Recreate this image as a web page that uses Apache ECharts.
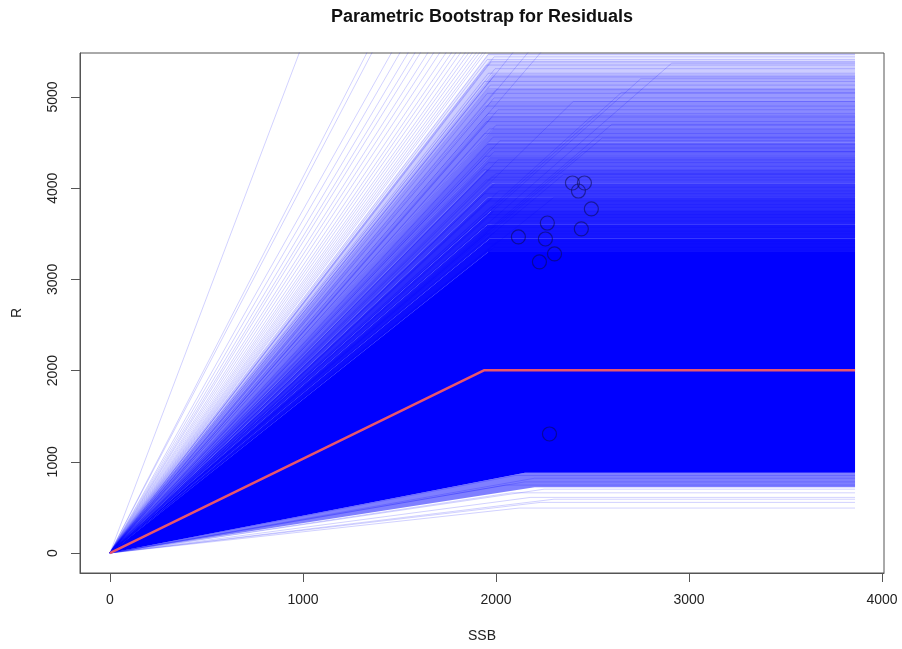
<!DOCTYPE html>
<html>
<head>
<meta charset="utf-8">
<title>Parametric Bootstrap for Residuals</title>
<script src="https://cdn.jsdelivr.net/npm/echarts@6/dist/echarts.min.js"></script>
<style>
  html, body { margin: 0; padding: 0; background: #fff; }
  #chart { width: 902px; height: 649px; }
</style>
</head>
<body>
<div id="chart"></div>
<script>
// tick labels
var xTicks = [0, 1000, 2000, 3000, 4000];
var yTicks = [0, 1000, 2000, 3000, 4000, 5000];

// largest observed SSB, every fitted line runs flat out to here
var ssbEnd = 3860;

// fitted segmented regression: [breakpoint SSB, plateau R]
var fitBreak = [1940, 2005];

// observed points that show through the lines
var obsSSB = [2396, 2458, 2427, 2494, 2266, 2442, 2116, 2256, 2303, 2225, 2277];
var obsR = [4057, 4057, 3969, 3772, 3618, 3553, 3465, 3443, 3279, 3191, 1305];

// dense part of the bootstrap cloud: [low break, low R, high break, high R]
var bands = [
  [2150, 880, 1960, 3300],
  [1960, 3300, 1970, 3450],
  [1970, 3450, 1955, 3600],
  [1955, 3600, 1975, 3750],
  [1975, 3750, 1960, 3900],
  [1960, 3900, 1980, 4050],
  [1980, 4050, 1950, 4200],
  [1950, 4200, 1970, 4350],
  [1970, 4350, 1960, 4500],
  [1960, 4500, 1985, 4650],
  [1985, 4650, 1955, 4800],
  [1955, 4800, 1975, 4950],
  [1975, 4950, 1960, 5100],
  [1960, 5100, 1980, 5250],
  [1980, 5250, 1965, 5400],
  [1965, 5400, 1960, 5482],
  [2200, 720, 2150, 880]
];
var bandAlpha = [1, 0.95, 0.91, 0.87, 0.83, 0.78, 0.72, 0.66, 0.61, 0.56, 0.51, 0.46, 0.4, 0.32, 0.2, 0.08, 0.5];

// single bootstrap fits, each [breakpoint SSB, plateau R]
var upperFits = [
  [1960, 3320], [1990, 3350], [1940, 3390], [2010, 3420], [1970, 3460], [1950, 3500],
  [2000, 3530], [1930, 3570], [1980, 3600], [2020, 3640], [1960, 3680], [1945, 3710],
  [1990, 3750], [1970, 3790], [2005, 3820], [1955, 3860], [1985, 3900], [1940, 3940],
  [2015, 3970], [1965, 4010], [1995, 4050], [1950, 4090], [1975, 4120], [2000, 4160],
  [1935, 4200], [1980, 4240], [1960, 4280], [2010, 4310], [1945, 4350], [1990, 4400],
  [1970, 4440], [1955, 4480], [2020, 4520], [1985, 4560], [1940, 4600], [1965, 4650],
  [2000, 4690], [1950, 4730], [1980, 4780], [1960, 4820], [2010, 4860], [1945, 4900],
  [1975, 4950], [1990, 4990], [1955, 5040], [2000, 5080], [1970, 5130], [1940, 5170],
  [1985, 5220], [1960, 5260], [1995, 5310], [1950, 5350], [1975, 5385], [1955, 5410],
  [1990, 5440], [1960, 5465]
];
// plateau above the top of the plot, only the rising part shows
var steepFits = [
  [1950, 10900], [1950, 8034], [1950, 7878], [1950, 7332], [1950, 7118], [1950, 6923],
  [1950, 6767], [1950, 6650], [1950, 6494], [1950, 6377], [1950, 6260], [1950, 6143],
  [1950, 6045], [1950, 5967], [1950, 5889], [1950, 5811], [1950, 5753], [1950, 5694],
  [1950, 5636], [1950, 5587], [1950, 5538], [1950, 5499],
  [2150, 5650], [2250, 5700], [2400, 5900]
];
// breakpoint further right
var lateFits = [
  [2910, 5370], [2750, 5200], [2650, 5050], [2600, 4700], [2500, 4800],
  [2450, 4400], [2350, 4150], [2300, 3900], [2550, 4550], [2400, 4950]
];
// low plateaus under the dense cloud
var lowerFits = [
  [2120, 493], [2230, 555], [2300, 590], [2180, 610], [2080, 660],
  [2250, 700], [2050, 745], [2150, 780], [2200, 820], [2100, 850]
];

var font = 'Liberation Sans, Arial, sans-serif';

function hockey(f) {
  return [[0, 0], [f[0], f[1]], [ssbEnd, f[1]]];
}

var series = [];

series.push({
  type: 'custom',
  silent: true,
  z: 1,
  data: bands,
  encode: { x: [0, 2], y: [1, 3] },
  renderItem: function (params, api) {
    var lb = api.value(0), ll = api.value(1), hb = api.value(2), hl = api.value(3);
    var pts = [
      api.coord([0, 0]),
      api.coord([hb, hl]),
      api.coord([ssbEnd, hl]),
      api.coord([ssbEnd, ll]),
      api.coord([lb, ll])
    ];
    return {
      type: 'polygon',
      shape: { points: pts },
      style: { fill: 'rgba(0,0,255,' + bandAlpha[params.dataIndex] + ')' }
    };
  }
});

[upperFits, steepFits, lateFits, lowerFits].forEach(function (group) {
  group.forEach(function (f) {
    series.push({
      type: 'line',
      data: hockey(f),
      symbol: 'none',
      silent: true,
      z: 2,
      lineStyle: { color: '#0000ff', width: 1, opacity: 0.18 }
    });
  });
});

series.push({
  type: 'scatter',
  silent: true,
  z: 3,
  symbolSize: 14,
  data: obsSSB.map(function (x, i) { return [x, obsR[i]]; }),
  itemStyle: { color: 'rgba(0,0,0,0)', borderColor: 'rgba(10,10,80,0.7)', borderWidth: 1.2 }
});

series.push({
  type: 'line',
  data: hockey(fitBreak),
  symbol: 'none',
  silent: true,
  z: 4,
  lineStyle: { color: '#e8566c', width: 2.5 }
});

function plain(v) { return String(v); }

var chart = echarts.init(document.getElementById('chart'));
chart.setOption({
  animation: false,
  backgroundColor: '#fff',
  title: {
    text: 'Parametric Bootstrap for Residuals',
    left: 482,
    top: 8,
    padding: 0,
    textAlign: 'center',
    textStyle: { fontFamily: font, fontSize: 18, fontWeight: 'bold', color: '#111' }
  },
  grid: {
    left: 80, right: 18, top: 53, bottom: 76,
    show: true, borderColor: '#555', borderWidth: 1,
    outerBoundsMode: 'none'
  },
  xAxis: {
    type: 'value',
    min: -155,
    max: 4010,
    name: 'SSB',
    nameLocation: 'middle',
    nameGap: 56,
    nameTextStyle: { fontFamily: font, fontSize: 14, color: '#222' },
    axisLine: { show: true, onZero: false, lineStyle: { color: '#555' } },
    axisTick: { show: true, length: 9, customValues: xTicks, lineStyle: { color: '#555' } },
    axisLabel: { customValues: xTicks, formatter: plain, margin: 20, fontFamily: font, fontSize: 14, color: '#222' },
    splitLine: { show: false }
  },
  yAxis: {
    type: 'value',
    min: -219,
    max: 5482,
    name: 'R',
    nameLocation: 'middle',
    nameGap: 56,
    nameTextStyle: { fontFamily: font, fontSize: 14, color: '#222' },
    axisLine: { show: true, onZero: false, lineStyle: { color: '#555' } },
    axisTick: { show: true, length: 9, customValues: yTicks, lineStyle: { color: '#555' } },
    axisLabel: { customValues: yTicks, formatter: plain, rotate: 90, margin: 20, fontFamily: font, fontSize: 14, color: '#222' },
    splitLine: { show: false }
  },
  series: series
});
</script>
</body>
</html>
